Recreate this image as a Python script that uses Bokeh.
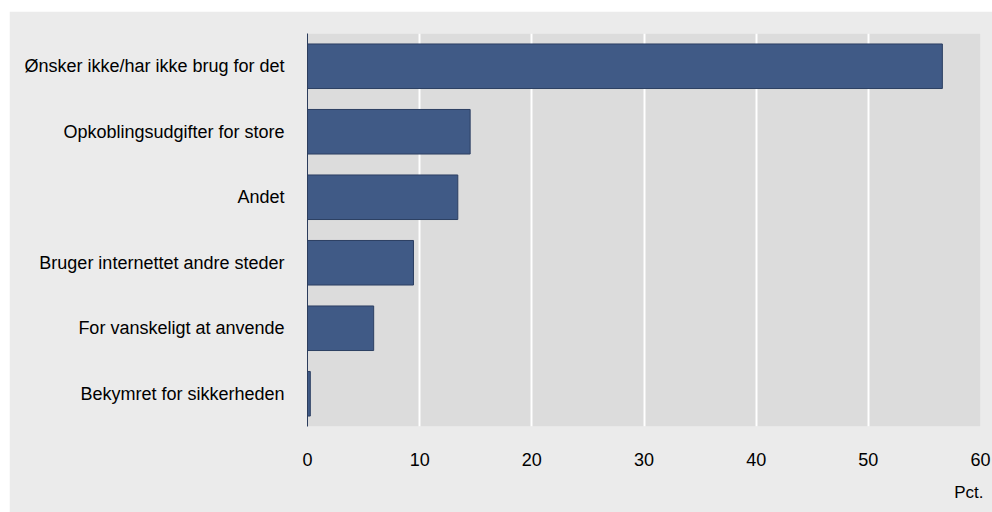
from bokeh.plotting import figure
from bokeh.models import Range1d, FactorRange, Title, FixedTicker
from bokeh.embed import file_html
from bokeh.resources import INLINE

categories = [
    "Ønsker ikke/har ikke brug for det",
    "Opkoblingsudgifter for store",
    "Andet",
    "Bruger internettet andre steder",
    "For vanskeligt at anvende",
    "Bekymret for sikkerheden",
]
values = [56.6, 14.5, 13.4, 9.45, 5.9, 0.25]
x_ticks = [0, 10, 20, 30, 40, 50, 60]
unit_label = "Pct."

FONT = "Liberation Sans"

p = figure(
    width=983, height=501,
    y_range=FactorRange(factors=list(reversed(categories))),
    x_range=Range1d(0, 60),
    output_backend="svg", toolbar_location=None,
    min_border_left=298, min_border_right=12, min_border_top=22, min_border_bottom=86,
    frame_width=673, frame_height=393,
)
p.styles = {"margin-left": "9px", "margin-top": "11px"}
p.background_fill_color = "#dcdcdc"
p.border_fill_color = "#ebebeb"
p.outline_line_color = None

p.hbar(y=categories, right=values, left=0, height=0.68,
       fill_color="#405a86", line_color="#2c3f62", line_width=1)

p.xgrid.ticker = FixedTicker(ticks=x_ticks)
p.xgrid.grid_line_color = "white"
p.xgrid.grid_line_width = 2
p.ygrid.grid_line_color = None

p.xaxis.ticker = FixedTicker(ticks=x_ticks)
p.xaxis.axis_line_color = None
p.xaxis.major_tick_line_color = None
p.xaxis.minor_tick_line_color = None
p.xaxis.major_label_text_font = FONT
p.xaxis.major_label_text_font_size = "18px"
p.xaxis.major_label_text_color = "black"
p.xaxis.major_label_standoff = 20

p.yaxis.axis_line_color = "#2b3c5c"
p.yaxis.axis_line_width = 1
p.yaxis.major_tick_line_color = None
p.yaxis.minor_tick_line_color = None
p.yaxis.major_label_text_font = FONT
p.yaxis.major_label_text_font_size = "18px"
p.yaxis.major_label_text_color = "black"
p.yaxis.major_label_standoff = 17

p.add_layout(Title(text=unit_label, align="right", text_font=FONT, text_font_size="17px",
                   text_font_style="normal", text_color="black", offset=-3, standoff=24),
             "below")

open("out.html", "w").write(file_html(p, INLINE))
